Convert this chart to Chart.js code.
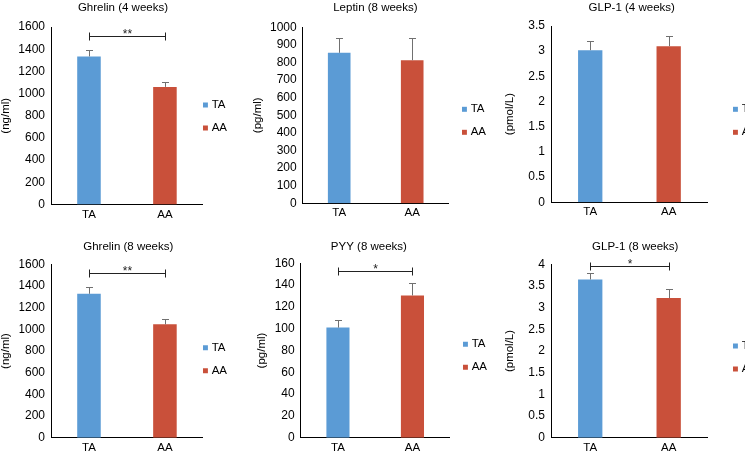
<!DOCTYPE html>
<html><head><meta charset="utf-8">
<script src="https://cdn.jsdelivr.net/npm/chart.js@4"></script>
<style>
html,body{margin:0;padding:0;background:#fff;overflow:hidden;width:745px;height:453px;position:relative}
canvas{position:absolute}
</style></head><body>
<canvas id="c1"></canvas><canvas id="c2"></canvas><canvas id="c3"></canvas>
<canvas id="c4"></canvas><canvas id="c5"></canvas><canvas id="c6"></canvas>
<script>
// ---- data ----
const groups = ['TA', 'AA'];
const barColors = ['#5b9bd5', '#c9503a'];

const ghrelin4Values = [1335, 1060];
const ghrelin4Errors = [57, 40];
const ghrelin4Ticks = [0, 200, 400, 600, 800, 1000, 1200, 1400, 1600];

const leptin8Values = [855, 813];
const leptin8Errors = [82, 124];
const leptin8Ticks = [0, 100, 200, 300, 400, 500, 600, 700, 800, 900, 1000];

const glp4Values = [3.02, 3.10];
const glp4Errors = [0.19, 0.21];
const glp4Ticks = [0, 0.5, 1, 1.5, 2, 2.5, 3, 3.5];

const ghrelin8Values = [1328, 1046];
const ghrelin8Errors = [65, 50];
const ghrelin8Ticks = [0, 200, 400, 600, 800, 1000, 1200, 1400, 1600];

const pyy8Values = [101, 130.5];
const pyy8Errors = [7, 11];
const pyy8Ticks = [0, 20, 40, 60, 80, 100, 120, 140, 160];

const glp8Values = [3.65, 3.22];
const glp8Errors = [0.15, 0.21];
const glp8Ticks = [0, 0.5, 1, 1.5, 2, 2.5, 3, 3.5, 4];

// significance brackets: [level, label]
const ghrelin4Sig = [1520, '**'];
const ghrelin8Sig = [1520, '**'];
const pyy8Sig = [153, '*'];
const glp8Sig = [3.97, '*'];

const FONT = "'Liberation Sans', Arial, Helvetica, sans-serif";
Chart.defaults.font.family = FONT;
Chart.defaults.font.size = 11.5;
Chart.defaults.color = '#000';

const extrasPlugin = {
  id: 'extras',
  afterDatasetsDraw(chart) {
    const ctx = chart.ctx, ys = chart.scales.y;
    const ds = chart.data.datasets[0];
    const meta = chart.getDatasetMeta(0);
    ctx.save();
    ctx.lineWidth = 1;
    ctx.strokeStyle = '#707070';
    meta.data.forEach((bar, i) => {
      const x = Math.round(bar.x) + 0.5;
      const yt = Math.round(ys.getPixelForValue(ds.data[i] + ds.errors[i])) + 0.5;
      ctx.beginPath();
      ctx.moveTo(x, bar.y); ctx.lineTo(x, yt);
      ctx.moveTo(x - 3.5, yt); ctx.lineTo(x + 3.5, yt);
      ctx.stroke();
    });
    if (ds.sig) {
      const x1 = Math.round(meta.data[0].x) + 0.5, x2 = Math.round(meta.data[1].x) + 0.5;
      const yl = Math.round(ys.getPixelForValue(ds.sig[0])) + 0.5;
      ctx.strokeStyle = '#222';
      ctx.beginPath();
      ctx.moveTo(x1, yl); ctx.lineTo(x2, yl);
      ctx.moveTo(x1, yl - 4); ctx.lineTo(x1, yl + 4);
      ctx.moveTo(x2, yl - 4); ctx.lineTo(x2, yl + 4);
      ctx.stroke();
      ctx.fillStyle = '#222';
      ctx.font = '12px ' + FONT;
      ctx.textAlign = 'center';
      ctx.textBaseline = 'alphabetic';
      ctx.fillText(ds.sig[1], (x1 + x2) / 2, yl + 1);
    }
    ctx.restore();
  }
};

function makeChart(p) {
  const cv = document.getElementById(p.id);
  cv.width = Math.round(p.w); cv.height = p.h;
  cv.style.left = p.x + 'px'; cv.style.top = p.y + 'px';
  cv.style.width = Math.round(p.w) + 'px'; cv.style.height = p.h + 'px';
  return new Chart(cv, {
    type: 'bar',
    data: {
      labels: groups,
      datasets: [{
        label: p.title, data: p.values, errors: p.errors, sig: p.sig,
        backgroundColor: barColors, borderWidth: 0,
        barPercentage: 0.31, categoryPercentage: 1
      }]
    },
    options: {
      responsive: false, animation: false, devicePixelRatio: 1,
      layout: { padding: { left: p.pl, right: 0, top: 0, bottom: p.pb } },
      scales: {
        x: {
          grid: { display: false, drawTicks: false },
          border: { display: true, color: '#000', width: 1 },
          ticks: { color: '#000', padding: 3 }
        },
        y: {
          min: p.ticks[0], max: p.ticks[p.ticks.length - 1],
          afterBuildTicks: s => { s.ticks = p.ticks.map(v => ({ value: v })); },
          afterFit: s => { s.width = p.yw; },
          grid: { display: false, drawTicks: false },
          border: { display: true, color: '#000', width: 1 },
          ticks: { color: '#000', padding: 6, font: { size: 12 }, callback: v => String(v) },
          title: { display: true, text: p.unit, color: '#000', padding: { top: p.ypad, bottom: 0 } }
        },
        gap: {
          type: 'linear', position: 'right', display: true,
          afterFit: s => { s.width = p.gap; },
          grid: { display: false, drawTicks: false },
          border: { display: false }, ticks: { display: false }
        }
      },
      plugins: {
        title: { display: true, text: p.title, color: '#000', font: { size: 11.5, weight: 'normal' },
                 padding: { top: p.tpt, bottom: p.tpb } },
        tooltip: { enabled: false },
        legend: {
          position: 'right', align: 'center',
          title: { display: true, text: '', font: { size: 11.5, lineHeight: '0px' }, padding: { top: p.lt, bottom: 0 } },
          labels: {
            usePointStyle: true, pointStyle: 'rect', boxWidth: 1, boxHeight: 5, padding: 2,
            color: '#000', font: { size: 11.5, lineHeight: '21px' },
            generateLabels: chart => chart.data.labels.map((l, i) => ({
              text: [l], fillStyle: barColors[i], strokeStyle: barColors[i], lineWidth: 0,
              pointStyle: 'rect', hidden: false, index: i, datasetIndex: 0
            }))
          }
        }
      }
    },
    plugins: [extrasPlugin]
  });
}

const panels = [
  { id: 'c1', x: 0, y: 0, w: 237.05, h: 226, pl: 8.95, yw: 42.05, ypad: -9.85, pb: 1.7, tpt: 0.5, tpb: 12.7, gap: 0, lt: 18.2,
    title: 'Ghrelin (4 weeks)', unit: '(ng/ml)', values: ghrelin4Values, errors: ghrelin4Errors, ticks: ghrelin4Ticks, sig: ghrelin4Sig },
  { id: 'c2', x: 250, y: 0, w: 246.25, h: 226, pl: 4.75, yw: 47.95, ypad: -4.15, pb: 3, tpt: 0.5, tpb: 13, gap: 13.2, lt: 28.1,
    title: 'Leptin (8 weeks)', unit: '(pg/ml)', values: leptin8Values, errors: leptin8Errors, ticks: leptin8Ticks, sig: null },
  { id: 'c3', x: 496, y: 0, w: 271.05, h: 226, pl: 0.45, yw: 54.55, ypad: 6.15, pb: 4, tpt: 0.5, tpb: 11.7, gap: 25, lt: 29.1,
    title: 'GLP-1 (4 weeks)', unit: '(pmol/L)', values: glp4Values, errors: glp4Errors, ticks: glp4Ticks, sig: null },
  { id: 'c4', x: 0, y: 226, w: 237.05, h: 232, pl: 19.55, yw: 31.45, ypad: -20.45, pb: 0.5, tpt: 14, tpb: 10.5, gap: 0, lt: 44.4,
    title: 'Ghrelin (8 weeks)', unit: '(ng/ml)', values: ghrelin8Values, errors: ghrelin8Errors, ticks: ghrelin8Ticks, sig: ghrelin8Sig },
  { id: 'c5', x: 240, y: 226, w: 257.25, h: 232, pl: 0.75, yw: 59.95, ypad: 14.35, pb: 0.5, tpt: 14, tpb: 9.5, gap: 13.2, lt: 37.6,
    title: 'PYY (8 weeks)', unit: '(pg/ml)', values: pyy8Values, errors: pyy8Errors, ticks: pyy8Ticks, sig: pyy8Sig },
  { id: 'c6', x: 497, y: 226, w: 270.05, h: 232, pl: 6.45, yw: 47.55, ypad: -0.35, pb: 0.5, tpt: 14, tpb: 10.5, gap: 25, lt: 41,
    title: 'GLP-1 (8 weeks)', unit: '(pmol/L)', values: glp8Values, errors: glp8Errors, ticks: glp8Ticks, sig: glp8Sig }
];
panels.forEach(makeChart);
</script>
</body></html>
